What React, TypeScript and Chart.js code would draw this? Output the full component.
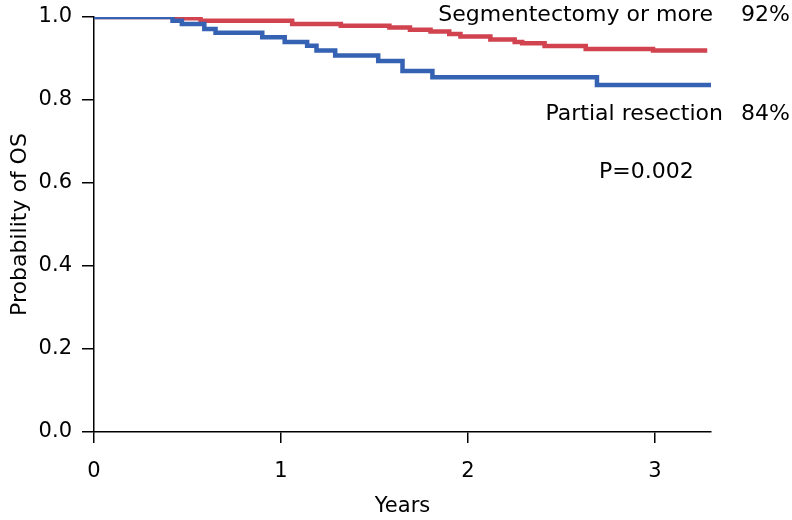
import React, { useEffect, useRef } from "react";
import { Chart, registerables } from "chart.js";

Chart.register(...registerables);

// Kaplan–Meier steps (time in years, survival probability after the step)
const segTimes = [0, 0.44, 0.57, 1.06, 1.32, 1.58, 1.69, 1.80, 1.90, 1.96, 2.12, 2.25, 2.29, 2.41, 2.63, 2.99, 3.28];
const segSurv = [1.0, 0.997, 0.991, 0.983, 0.979, 0.975, 0.969, 0.965, 0.959, 0.953, 0.946, 0.940, 0.937, 0.930, 0.923, 0.919, 0.919];

const partTimes = [0, 0.42, 0.47, 0.59, 0.65, 0.90, 1.02, 1.14, 1.19, 1.29, 1.52, 1.65, 1.81, 2.69, 3.30];
const partSurv = [1.0, 0.991, 0.983, 0.971, 0.962, 0.951, 0.940, 0.931, 0.919, 0.907, 0.894, 0.870, 0.855, 0.836, 0.836];

const xTicks = [0, 1, 2, 3];
const yTicks = [0, 0.2, 0.4, 0.6, 0.8, 1.0];

const seriesNames = ["Segmentectomy or more", "Partial resection"];
const seriesPct = ["92%", "84%"];
const pValueText = "P=0.002";
const xTitle = "Years";
const yTitle = "Probability of OS";

const FONT = '"DejaVu Sans", "Liberation Sans", Arial, sans-serif';
const RED = "#d0434f";
const BLUE = "#3562b3";

const annotationPlugin = {
  id: "kmAnnotations",
  afterDraw(chart: any) {
    const ctx = chart.ctx;
    ctx.save();
    ctx.fillStyle = "#000";
    ctx.font = `22px ${FONT}`;
    ctx.textBaseline = "alphabetic";
    ctx.textAlign = "right";
    ctx.fillText(seriesNames[0], 713, 21);
    ctx.fillText(seriesPct[0], 790, 21);
    ctx.fillText(seriesNames[1], 723, 120);
    ctx.fillText(seriesPct[1], 790, 120);
    ctx.textAlign = "left";
    ctx.fillText(pValueText, 599, 178);
    ctx.restore();
  },
};

export default function App() {
  const ref = useRef<HTMLCanvasElement | null>(null);

  useEffect(() => {
    if (!ref.current) return;
    const chart = new Chart(ref.current, {
      type: "line",
      data: {
        datasets: [
          {
            label: seriesNames[0],
            data: segTimes.map((t, i) => ({ x: t, y: segSurv[i] })),
            borderColor: RED,
            borderWidth: 4.5,
            pointRadius: 0,
            stepped: "before",
            fill: false,
            order: 2,
          },
          {
            label: seriesNames[1],
            data: partTimes.map((t, i) => ({ x: t, y: partSurv[i] })),
            borderColor: BLUE,
            borderWidth: 4.5,
            pointRadius: 0,
            stepped: "before",
            fill: false,
            order: 1,
          },
        ],
      },
      options: {
        responsive: false,
        animation: false,
        devicePixelRatio: 1,
        layout: { padding: { left: 0, top: 17, right: 81, bottom: 0 } },
        plugins: {
          legend: { display: false },
          tooltip: { enabled: false },
        },
        scales: {
          x: {
            type: "linear",
            min: 0,
            max: 3.3,
            afterBuildTicks: (scale: any) => {
              scale.ticks = xTicks.map((v) => ({ value: v }));
            },
            afterFit: (scale: any) => {
              scale.height = 88;
            },
            grid: {
              drawOnChartArea: false,
              drawTicks: true,
              tickLength: 11,
              color: "#000",
              lineWidth: 1.5,
            },
            border: { display: true, color: "#000", width: 1.5 },
            ticks: {
              color: "#000",
              font: { family: FONT, size: 21 },
              padding: 16,
              maxRotation: 0,
              callback: (v: any) => String(v),
            },
            title: {
              display: true,
              text: xTitle,
              color: "#000",
              font: { family: FONT, size: 21 },
              padding: { top: 0, bottom: 1 },
            },
          },
          y: {
            type: "linear",
            min: 0,
            max: 1,
            afterBuildTicks: (scale: any) => {
              scale.ticks = yTicks.map((v) => ({ value: v }));
            },
            afterFit: (scale: any) => {
              scale.width = 94;
              scale.paddingTop = 0;
              scale.paddingBottom = 0;
            },
            grid: {
              drawOnChartArea: false,
              drawTicks: true,
              tickLength: 12,
              color: "#000",
              lineWidth: 1.5,
            },
            border: { display: true, color: "#000", width: 1.5 },
            ticks: {
              color: "#000",
              font: { family: FONT, size: 21 },
              padding: 10,
              callback: (v: any) => Number(v).toFixed(1),
            },
            title: {
              display: true,
              text: yTitle,
              color: "#000",
              font: { family: FONT, size: 22 },
              padding: { top: 7, bottom: 0 },
            },
          },
        },
      },
      plugins: [annotationPlugin],
    } as any);
    return () => chart.destroy();
  }, []);

  return (
    <div style={{ position: "absolute", left: 0, top: 0, width: 792, height: 520, background: "#fff" }}>
      <canvas ref={ref} width={792} height={520} style={{ display: "block", width: 792, height: 520 }} />
    </div>
  );
}
